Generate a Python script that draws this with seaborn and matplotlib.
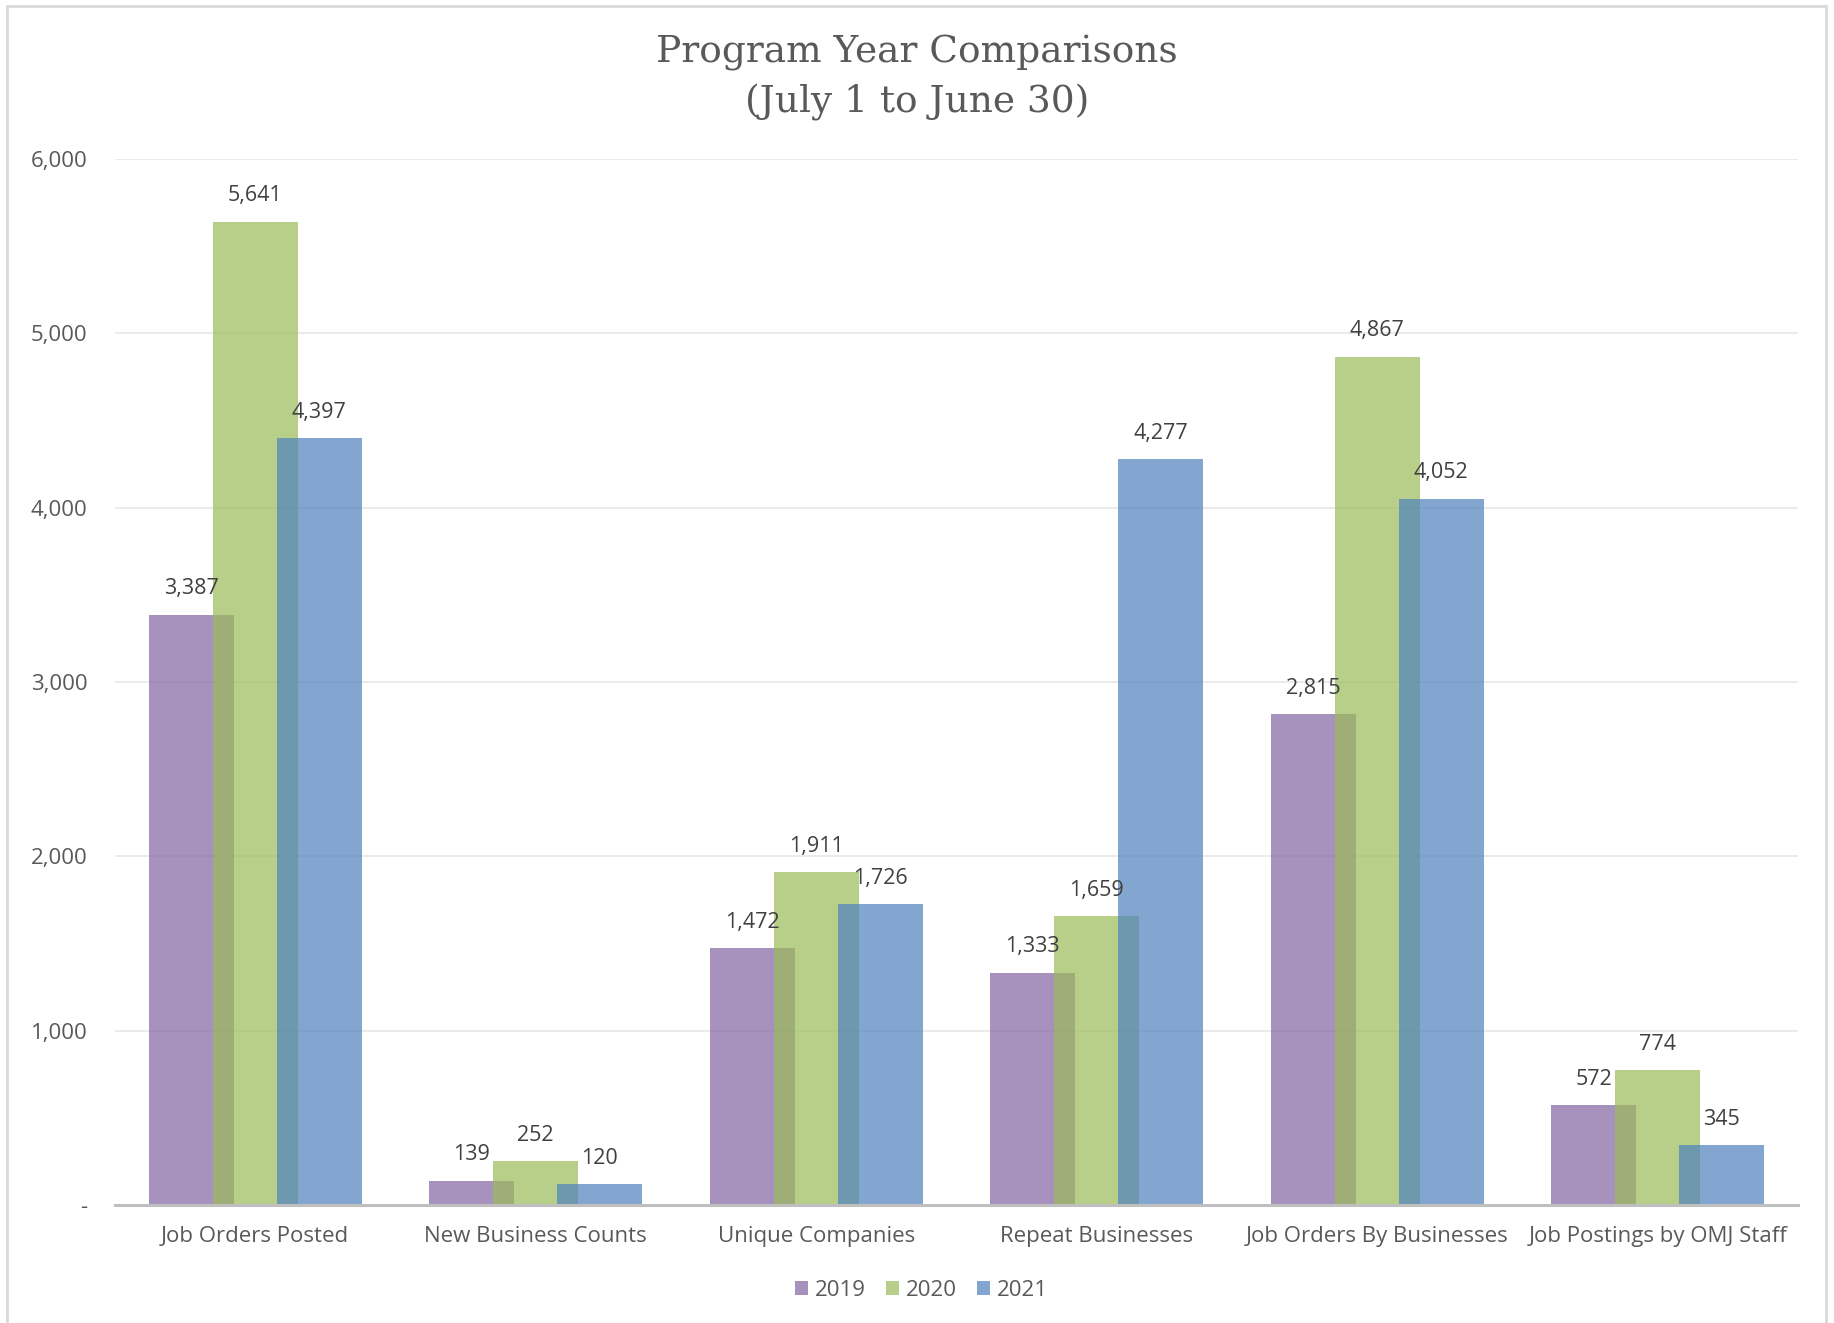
import matplotlib
matplotlib.use("Agg")
import matplotlib.pyplot as plt
from matplotlib.patches import Rectangle, Patch
import seaborn as sns
import pandas as pd

categories = ["Job Orders Posted", "New Business Counts", "Unique Companies",
              "Repeat Businesses", "Job Orders By Businesses", "Job Postings by OMJ Staff"]
years = ["2019", "2020", "2021"]
values_2019 = [3387, 139, 1472, 1333, 2815, 572]
values_2020 = [5641, 252, 1911, 1659, 4867, 774]
values_2021 = [4397, 120, 1726, 4277, 4052, 345]
colors = ["#8064A2", "#9BBB59", "#4F81BD"]

df = pd.DataFrame({
    "category": categories * 3,
    "year": [y for y in years for _ in categories],
    "value": values_2019 + values_2020 + values_2021,
})

sns.set_theme(style="white")
plt.rcParams["font.family"] = ["Open Sans", "DejaVu Sans"]

fig = plt.figure(figsize=(18.34, 13.23), dpi=100)
ax = fig.add_axes([115 / 1834, 1 - 1205 / 1323, (1798 - 115) / 1834, (1205 - 159) / 1323])

sns.barplot(data=df, x="category", y="value", hue="year", order=categories,
            hue_order=years, palette=colors, saturation=1, errorbar=None,
            width=0.684, gap=-0.329, alpha=0.7, linewidth=0, ax=ax, legend=False)

ax.set_xlim(-0.5, 5.5)
ax.set_ylim(0, 6000)
ax.set_yticks(range(0, 6001, 1000))
ax.set_yticklabels(["-" if v == 0 else f"{v:,}" for v in range(0, 6001, 1000)])
ax.set_xlabel("")
ax.set_ylabel("")
ax.yaxis.grid(True, color="#E7E7E7", linewidth=1.2)
ax.set_axisbelow(True)
for side in ["left", "right", "top"]:
    ax.spines[side].set_visible(False)
ax.spines["bottom"].set_color("#BFBFBF")
ax.spines["bottom"].set_linewidth(2.2)
ax.tick_params(axis="both", length=0, labelsize=16, labelcolor="#595959")
ax.tick_params(axis="x", pad=15)
ax.tick_params(axis="y", pad=20)

for cont in ax.containers:
    ax.bar_label(cont, labels=[f"{v:,.0f}" for v in cont.datavalues],
                 padding=11, fontsize=15.5, color="#404040")

fig.text(0.5, 1 - 78 / 1323, "Program Year Comparisons\n(July 1 to June 30)",
         ha="center", va="center", fontsize=27, color="#595959",
         family=["DejaVu Serif"], linespacing=1.45)

handles = [Patch(facecolor=c, alpha=0.7, edgecolor="none") for c in colors]
fig.legend(handles, years, loc="center", bbox_to_anchor=(921 / 1834, 1 - 1290 / 1323),
           ncol=3, frameon=False, fontsize=16, handlelength=0.6, handleheight=0.6,
           handletextpad=0.3, columnspacing=0.9, labelcolor="#595959")

fig.add_artist(Rectangle((7 / 1834, -0.02), (1826 - 7) / 1834, 1.02 - 6 / 1323,
                         transform=fig.transFigure, fill=False,
                         edgecolor="#D9D9D9", linewidth=2))

fig.savefig("out.png", dpi=100)
